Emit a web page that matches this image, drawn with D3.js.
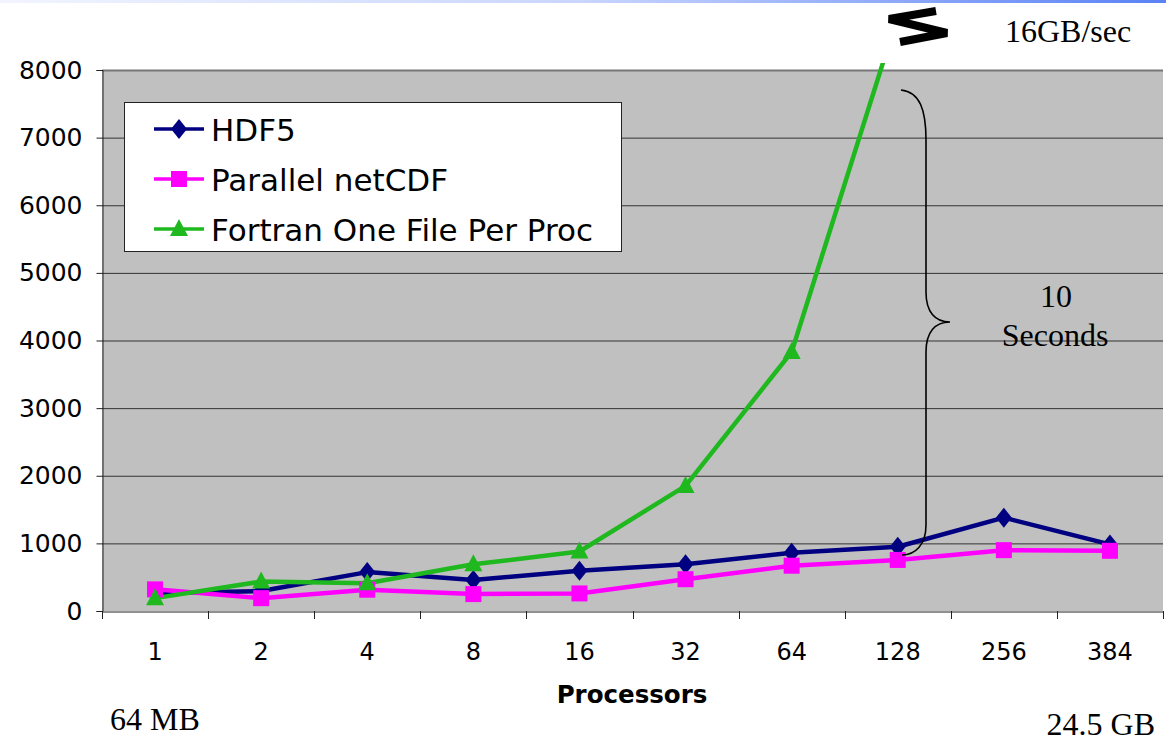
<!DOCTYPE html>
<html>
<head>
<meta charset="utf-8">
<script src="https://cdn.jsdelivr.net/npm/d3@7"></script>
<style>
  html, body { margin: 0; padding: 0; background: #fff; }
  svg { display: block; }
</style>
</head>
<body>
<svg id="chart" width="1166" height="742"></svg>
<script>
// ---- data ----
const categories = ["1", "2", "4", "8", "16", "32", "64", "128", "256", "384"];
const hdf5 = [265, 295, 575, 460, 595, 690, 860, 950, 1380, 985];
const pnetcdf = [320, 190, 315, 250, 260, 470, 670, 755, 900, 890];
const fortran = [190, 435, 410, 690, 880, 1850, 3830, 8800, null, null];
const yTicks = [0, 1000, 2000, 3000, 4000, 5000, 6000, 7000, 8000];
const seriesNames = ["HDF5", "Parallel netCDF", "Fortran One File Per Proc"];
const seriesColors = ["#000080", "#ff00ff", "#1fb81f"];
const xTitle = "Processors";

const svg = d3.select("#chart");
const W = 1166, H = 742;
const m = { left: 102, right: 1163, top: 70, bottom: 611 };
const sans = "DejaVu Sans, Verdana, sans-serif";
const serif = "Liberation Serif, Times New Roman, serif";

// top gradient bar
const defs = svg.append("defs");
const grad = defs.append("linearGradient").attr("id", "topbar");
grad.append("stop").attr("offset", "0%").attr("stop-color", "#f2f5ff");
grad.append("stop").attr("offset", "50%").attr("stop-color", "#c9d5fd");
grad.append("stop").attr("offset", "100%").attr("stop-color", "#5a82f5");
svg.append("rect").attr("x", 0).attr("y", 0).attr("width", W).attr("height", 3).attr("fill", "url(#topbar)");

const x = d3.scaleBand().domain(categories).range([m.left, m.right]).padding(0);
const y = d3.scaleLinear().domain([0, 8000]).range([m.bottom, m.top]);

// plot background
svg.append("rect").attr("x", m.left).attr("y", m.top)
  .attr("width", m.right - m.left).attr("height", m.bottom - m.top)
  .attr("fill", "#c0c0c0");

// gridlines
svg.append("g").selectAll("line").data(yTicks.filter(d => d > 0)).join("line")
  .attr("x1", m.left).attr("x2", m.right)
  .attr("y1", d => y(d) + 0.5).attr("y2", d => y(d) + 0.5)
  .attr("stroke", d => d === 8000 ? "#777" : "#333").attr("stroke-width", d => d === 8000 ? 2 : 1);

// y axis
const yAxis = d3.axisLeft(y).tickValues(yTicks).tickSize(6).tickPadding(14).tickFormat(d3.format("d"));
const gy = svg.append("g").attr("transform", `translate(${m.left + 0.5},0)`).call(yAxis);
gy.select(".domain").attr("stroke", "#222");
gy.selectAll(".tick line").attr("stroke", "#222");
gy.selectAll("text").attr("font-family", sans).attr("font-size", 25).attr("fill", "#000");

// x axis
const xAxis = d3.axisBottom(x).tickSize(0).tickPadding(31);
const gx = svg.append("g").attr("transform", `translate(0,${m.bottom + 0.5})`).call(xAxis);
gx.select(".domain").attr("stroke", "#222");
gx.selectAll("text").attr("font-family", sans).attr("font-size", 24).attr("fill", "#000");
// category separator ticks
const sepVals = categories.map(c => x(c)).concat([m.right]);
svg.append("g").selectAll("line").data(sepVals).join("line")
  .attr("x1", d => Math.round(d) + 0.5).attr("x2", d => Math.round(d) + 0.5)
  .attr("y1", m.bottom).attr("y2", m.bottom + 8)
  .attr("stroke", "#222");

// axis title
svg.append("text").attr("x", 632).attr("y", 703).attr("text-anchor", "middle")
  .attr("font-family", sans).attr("font-weight", "bold").attr("font-size", 24.5)
  .text(xTitle);

// clip for lines
defs.append("clipPath").attr("id", "plotclip").append("rect")
  .attr("x", m.left).attr("y", m.top - 7).attr("width", m.right - m.left).attr("height", m.bottom - m.top + 20);

const cx = c => x(c) + x.bandwidth() / 2;
const line = d3.line().defined(d => d.v != null).x(d => cx(d.c)).y(d => y(d.v));

const allSeries = [hdf5, pnetcdf, fortran].map((vals, i) => ({
  name: seriesNames[i], color: seriesColors[i], idx: i,
  pts: categories.map((c, j) => ({ c, v: vals[j] }))
}));

const lg = svg.append("g").attr("clip-path", "url(#plotclip)");
allSeries.forEach(s => {
  lg.append("path").datum(s.pts).attr("d", line)
    .attr("fill", "none").attr("stroke", s.color).attr("stroke-width", 4.5).attr("stroke-linejoin", "round");
});

// markers
function drawMarker(g, i, color, tx, ty) {
  if (i === 0) {
    g.append("path").attr("d", `M0,-10L8,0L0,10L-8,0Z`).attr("transform", `translate(${tx},${ty})`).attr("fill", color);
  } else if (i === 1) {
    g.append("rect").attr("x", tx - 8).attr("y", ty - 8).attr("width", 16).attr("height", 16).attr("fill", color);
  } else {
    g.append("path").attr("d", `M0,-10L9,7L-9,7Z`).attr("transform", `translate(${tx},${ty})`).attr("fill", color);
  }
}
const mg = svg.append("g");
allSeries.forEach(s => {
  s.pts.filter(p => p.v != null && p.v <= 8000).forEach(p => drawMarker(mg, s.idx, s.color, cx(p.c), y(p.v)));
});

// legend
const leg = svg.append("g");
leg.append("rect").attr("x", 124.5).attr("y", 102.5).attr("width", 497).attr("height", 149)
  .attr("fill", "#fff").attr("stroke", "#222").attr("stroke-width", 1);
allSeries.forEach((s, i) => {
  const ly = 129 + i * 50;
  leg.append("line").attr("x1", 154).attr("x2", 204).attr("y1", ly).attr("y2", ly)
    .attr("stroke", s.color).attr("stroke-width", 3.5);
  drawMarker(leg, i, s.color, 179, ly);
  leg.append("text").attr("x", 211).attr("y", ly + 12)
    .attr("font-family", sans).attr("font-size", 31)
    .text(s.name);
});

// brace annotation
svg.append("path")
  .attr("d", "M901,90 C920,92 926,110 926,140 L926,292 C926,312 935,322 950,322 C935,322 926,332 926,352 L926,525 C926,545 915,555 902,555")
  .attr("fill", "none").attr("stroke", "#000").attr("stroke-width", 1.6);

svg.append("text").attr("x", 1056).attr("y", 307).attr("text-anchor", "middle")
  .attr("font-family", serif).attr("font-size", 32).text("10");
svg.append("text").attr("x", 1055).attr("y", 346).attr("text-anchor", "middle")
  .attr("font-family", serif).attr("font-size", 32).text("Seconds");
svg.append("text").attr("x", 1005).attr("y", 42)
  .attr("font-family", serif).attr("font-size", 32).text("16GB/sec");
svg.append("text").attr("x", 110).attr("y", 730)
  .attr("font-family", serif).attr("font-size", 32).text("64 MB");
svg.append("text").attr("x", 1155).attr("y", 735).attr("text-anchor", "end")
  .attr("font-family", serif).attr("font-size", 32).text("24.5 GB");

// break symbol
svg.append("path").attr("d", "M936,11 L889,19 L947,33 L900,42")
  .attr("fill", "none").attr("stroke", "#000").attr("stroke-width", 8).attr("stroke-linejoin", "miter");
</script>
</body>
</html>
